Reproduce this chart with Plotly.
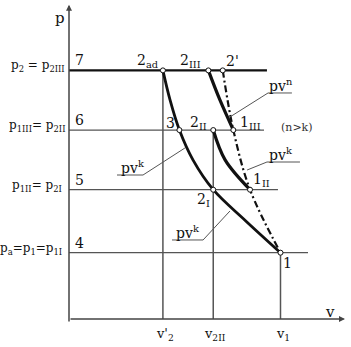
import plotly.graph_objects as go

# ---- data (p in units of p1, v in units of v1) ----
P_LEVELS = [1.0, 1.95, 2.85, 3.75]          # p1, p1II=p2I, p1III=p2II, p2
LEVEL_NUMS = ["4", "5", "6", "7"]
LEVEL_LABELS = [
    "p<sub>a</sub>=p<sub>1</sub>=p<sub>1I</sub>",
    "p<sub>1II</sub>= p<sub>2I</sub>",
    "p<sub>1III</sub>= p<sub>2II</sub>",
    "p<sub>2</sub> = p<sub>2III</sub>",
]
LEVEL_ENDS = [1.13, 0.988, 0.922, 0.936]

V_TICKS = [0.444, 0.682, 1.0]
V_TICK_LABELS = ["v'<sub>2</sub>", "v<sub>2II</sub>", "v<sub>1</sub>"]
V_TICK_TOPS = [3.75, 2.85, 1.0]

# adiabat 2ad - 3 - 2I - 1
ADIA_V = [0.444, 0.478, 0.522, 0.586, 0.682, 0.832, 1.0]
ADIA_P = [3.75, 3.30, 2.85, 2.40, 1.95, 1.49, 1.0]
# polytrope 1III - 2III
POLY_V = [0.659, 0.714, 0.777]
POLY_P = [3.75, 3.30, 2.85]
# adiabat 1II - 2II
ADIA2_V = [0.682, 0.738, 0.856]
ADIA2_P = [2.85, 2.40, 1.95]
# dash-dot 2' - 1III - 1II - 1
DD_V = [0.727, 0.777, 0.856, 1.0]
DD_P = [3.75, 2.85, 1.95, 1.0]

# state points
PT_NAMES = ["2<sub>ad</sub>", "2<sub>III</sub>", "2'", "3", "2<sub>II</sub>",
            "1<sub>III</sub>", "2<sub>I</sub>", "1<sub>II</sub>", "1"]
PT_V = [0.444, 0.659, 0.727, 0.522, 0.682, 0.777, 0.682, 0.856, 1.0]
PT_P = [3.75, 3.75, 3.75, 2.85, 2.85, 2.85, 1.95, 1.95, 1.0]

# ---- layout constants ----
W, H = 351, 347
X0, SX = 69, 211.5
Y0, SY = 319, 66.3
XR = [(0 - X0) / SX, (W - X0) / SX]
YR = [(Y0 - H) / SY, Y0 / SY]
FONT = "DejaVu Serif"
INK = "#111111"
GREY = "#555555"

fig = go.Figure()

def line(xs, ys, color=GREY, width=1.3, dash=None, shape="linear"):
    fig.add_trace(go.Scatter(x=xs, y=ys, mode="lines", hoverinfo="skip",
                             line=dict(color=color, width=width, dash=dash, shape=shape),
                             showlegend=False))

# horizontal pressure levels
for p, end in zip(P_LEVELS, LEVEL_ENDS):
    if p == max(P_LEVELS):
        line([0, end], [p, p], color=INK, width=2.2)
    else:
        line([0, end], [p, p], color=GREY, width=1.3)

# vertical volume lines
for v, top in zip(V_TICKS, V_TICK_TOPS):
    line([v, v], [0, top], color=GREY, width=1.5)

# curves
line(ADIA_V, ADIA_P, color=INK, width=2.8, shape="spline")
line(POLY_V, POLY_P, color=INK, width=3.2, shape="spline")
line(ADIA2_V, ADIA2_P, color=INK, width=3.2, shape="spline")
line(DD_V, DD_P, color=INK, width=2.2, dash="7px,3px,2px,3px", shape="spline")

# leader lines for labels
LEADERS = [
    ([0.761, 0.941, 1.054], [3.047, 3.409, 3.409]),   # pv^n
    ([0.842, 0.936, 1.092], [2.247, 2.368, 2.368]),   # pv^k right
    ([0.548, 0.350, 0.227], [2.579, 2.172, 2.172]),   # pv^k left
    ([0.761, 0.634, 0.487], [1.629, 1.192, 1.192]),   # pv^k lower
]
for xs, ys in LEADERS:
    line(xs, ys, color=GREY, width=1.0)

# points
fig.add_trace(go.Scatter(x=PT_V, y=PT_P, mode="markers", hoverinfo="skip", showlegend=False,
                         marker=dict(symbol="circle", size=5, color="white",
                                     line=dict(color=INK, width=1))))

ann = []
def text(x, y, s, size=13, xshift=0, yshift=0, xanchor="center", color=INK):
    ann.append(dict(x=x, y=y, xref="x", yref="y", text=s, showarrow=False,
                    xshift=xshift, yshift=yshift, xanchor=xanchor, yanchor="middle",
                    font=dict(family=FONT, size=size, color=color)))

# axes with arrows
ann.append(dict(x=0, y=4.74, ax=0, ay=-0.06, xref="x", yref="y", axref="x", ayref="y",
                showarrow=True, arrowhead=2, arrowsize=0.8, arrowwidth=1.5, arrowcolor="#444",
                text=""))
ann.append(dict(x=1.305, y=0, ax=0, ay=0, xref="x", yref="y", axref="x", ayref="y",
                showarrow=True, arrowhead=2, arrowsize=0.8, arrowwidth=1.5, arrowcolor="#444",
                text=""))
text(0, 4.74, "p", size=15, xshift=-9, yshift=-13)
text(1.305, 0, "v", size=15, xshift=-15, yshift=7)

# pressure labels
LABEL_SHIFT = [-5, -5, -2, -2]
for p, num, lab, dx in zip(P_LEVELS, LEVEL_NUMS, LEVEL_LABELS, LABEL_SHIFT):
    text(0, p, lab, size=12, xshift=dx, yshift=4, xanchor="right")
    text(0, p, num, size=14, xshift=4, yshift=10, xanchor="left")

# volume labels
for v, lab in zip(V_TICKS, V_TICK_LABELS):
    text(v, 0, lab, size=13, xshift=2, yshift=-15)

# point labels
OFFS = [(-15, 9), (-18, 9), (10, 9), (-9, 7), (-15, 7), (17, 7), (-10, -10), (11, 10), (7, -10)]
for v, p, s, (dx, dy) in zip(PT_V, PT_P, PT_NAMES, OFFS):
    text(v, p, s, size=14, xshift=dx, yshift=dy)

# curve labels
text(1.0, 3.409, "pv<sup>n</sup>", size=14, yshift=8)
text(1.0, 2.368, "pv<sup>k</sup>", size=14, yshift=8)
text(0.30, 2.172, "pv<sup>k</sup>", size=14, yshift=8)
text(0.56, 1.192, "pv<sup>k</sup>", size=14, yshift=8)
text(1.08, 2.85, "(n>k)", size=11, yshift=3, color="#333")

fig.update_layout(
    width=W, height=H, margin=dict(l=0, r=0, t=0, b=0),
    paper_bgcolor="white", plot_bgcolor="white",
    xaxis=dict(range=XR, visible=False, fixedrange=True),
    yaxis=dict(range=YR, visible=False, fixedrange=True),
    annotations=ann, showlegend=False,
)
fig.write_html("out.html")
